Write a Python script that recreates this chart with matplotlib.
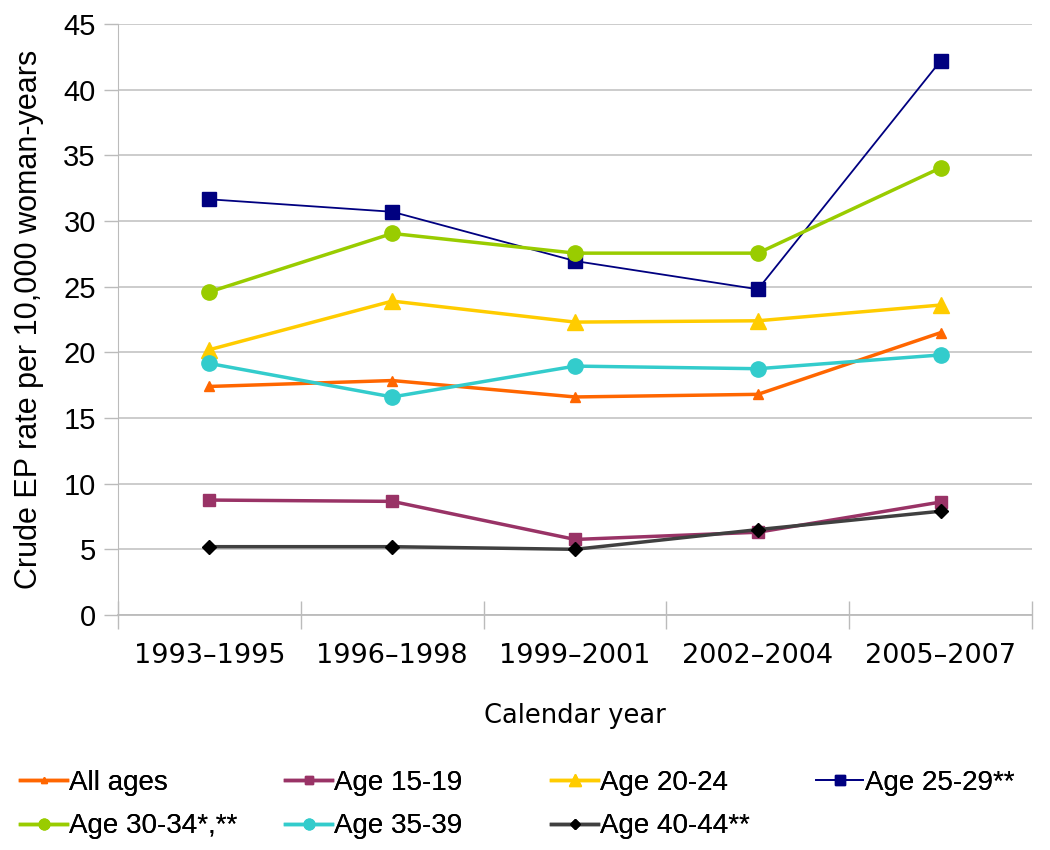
import matplotlib
matplotlib.use("Agg")
import matplotlib.pyplot as plt
from matplotlib.ticker import FixedLocator

categories = ["1993–1995", "1996–1998", "1999–2001", "2002–2004", "2005–2007"]
all_ages = [17.4, 17.85, 16.6, 16.8, 21.5]
age_15_19 = [8.75, 8.65, 5.75, 6.3, 8.6]
age_20_24 = [20.2, 23.9, 22.3, 22.4, 23.6]
age_25_29 = [31.65, 30.7, 26.95, 24.8, 42.2]
age_30_34 = [24.6, 29.05, 27.55, 27.55, 34.05]
age_35_39 = [19.15, 16.6, 18.95, 18.75, 19.8]
age_40_44 = [5.2, 5.2, 5.0, 6.5, 7.9]
y_ticks = [0, 5, 10, 15, 20, 25, 30, 35, 40, 45]

fig = plt.figure(figsize=(10.5, 8.5), dpi=100)
ax = fig.add_axes([0.1124, 0.2765, 0.8706, 0.6953])
x = list(range(len(categories)))

series = [
    ("All ages", all_ages, "#FF6600", "^", 7, 2.5, "#FF6600"),
    ("Age 15-19", age_15_19, "#993366", "s", 9, 2.5, "#993366"),
    ("Age 20-24", age_20_24, "#FFCC00", "^", 12, 2.5, "#FFCC00"),
    ("Age 25-29**", age_25_29, "#000080", "s", 10, 1.3, "#000080"),
    ("Age 30-34*,**", age_30_34, "#99CC00", "o", 11, 2.5, "#99CC00"),
    ("Age 35-39", age_35_39, "#33CCCC", "o", 11, 2.5, "#33CCCC"),
    ("Age 40-44**", age_40_44, "#404040", "D", 7, 2.5, "#000000"),
]
handles = []
for label, vals, col, mk, ms, lw, mcol in series:
    h, = ax.plot(x, vals, color=col, marker=mk, markersize=ms, linewidth=lw,
                 markerfacecolor=mcol, markeredgecolor=mcol, label=label, zorder=3)
    handles.append(h)

ax.set_xlim(-0.5, 4.5)
ax.set_ylim(0, 45)
ax.set_yticks(y_ticks)
ax.set_yticklabels([str(v) for v in y_ticks], fontfamily="Liberation Sans", fontsize=21)
ax.set_xticks(x)
ax.set_xticklabels(categories, fontfamily="DejaVu Sans", fontsize=19.5)
ax.tick_params(axis="x", which="major", length=0, pad=20)
ax.xaxis.set_minor_locator(FixedLocator([-0.5, 0.5, 1.5, 2.5, 3.5, 4.5]))
ax.tick_params(axis="x", which="minor", direction="inout", length=20, color="#BBBBBB", width=1)
ax.tick_params(axis="y", length=10, color="#BBBBBB", width=1, pad=6)
ax.grid(axis="y", color="#C8C8C8", linewidth=1.3, zorder=0)
for s in ["top", "right"]:
    ax.spines[s].set_visible(False)
ax.spines["left"].set_color("#BBBBBB")
ax.spines["bottom"].set_color("#BBBBBB")
ax.spines["bottom"].set_linewidth(1.3)

ax.set_ylabel("Crude EP rate per 10,000 woman-years", fontfamily="Liberation Sans", fontsize=22, labelpad=14)
ax.set_xlabel("Calendar year", fontfamily="DejaVu Sans", fontsize=18.5, labelpad=25)

# legend laid out row by row, one legend per column
col_x = [20, 285, 551, 816]
columns = [[0, 4], [1, 5], [2, 6], [3]]
for cx, idxs in zip(col_x, columns):
    leg = fig.legend(handles=[handles[i] for i in idxs], loc="upper left",
                     bbox_to_anchor=(cx / 1050, 1 - 770 / 850),
                     frameon=False, prop={"family": "Liberation Sans", "size": 20},
                     handlelength=1.7, handletextpad=0.08, labelspacing=0.62,
                     markerscale=0.7, borderaxespad=0, borderpad=0)
    fig.add_artist(leg)

fig.savefig("out.png", dpi=100)
